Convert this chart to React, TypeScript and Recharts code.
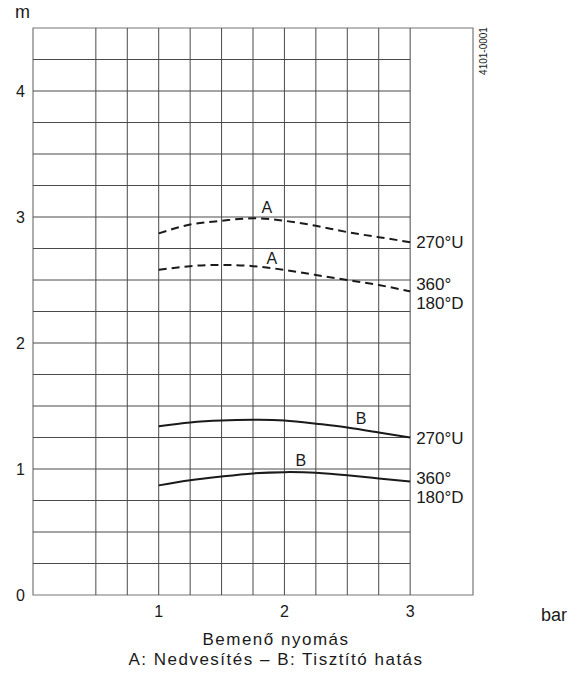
import { LineChart, Line, XAxis, YAxis, ReferenceLine, ReferenceArea, ReferenceDot } from 'recharts';

// pressure (bar) and the four curves (m)
const pressure = [1, 1.25, 1.5, 1.75, 2, 2.25, 2.5, 2.75, 3];
const wetting270 = [2.87, 2.94, 2.97, 2.99, 2.97, 2.93, 2.88, 2.84, 2.8];
const wetting360 = [2.58, 2.61, 2.62, 2.61, 2.58, 2.54, 2.5, 2.46, 2.41];
const cleaning270 = [1.34, 1.37, 1.385, 1.39, 1.385, 1.36, 1.33, 1.29, 1.25];
const cleaning360 = [0.87, 0.91, 0.94, 0.965, 0.975, 0.97, 0.95, 0.925, 0.9];

const xTicks = [1, 2, 3];
const yTicks = [0, 1, 2, 3, 4];
const gridX = [0.5, 0.75, 1, 1.25, 1.5, 1.75, 2, 2.25, 2.5, 2.75, 3];
const gridY = [0.25, 0.5, 0.75, 1, 1.25, 1.5, 1.75, 2, 2.25, 2.5, 2.75, 3, 3.25, 3.5, 3.75, 4, 4.25];

const curveLabels = [
  { x: 1.86, y: 3.08, text: 'A' },
  { x: 1.9, y: 2.67, text: 'A' },
  { x: 2.61, y: 1.4, text: 'B' },
  { x: 2.13, y: 1.07, text: 'B' },
];

const endLabels = [
  { y: 2.8, text: '270°U' },
  { y: 2.47, text: '360°' },
  { y: 2.315, text: '180°D' },
  { y: 1.244, text: '270°U' },
  { y: 0.926, text: '360°' },
  { y: 0.775, text: '180°D' },
];

const data = pressure.map((p, i) => ({
  p,
  a270: wetting270[i],
  a360: wetting360[i],
  b270: cleaning270[i],
  b360: cleaning360[i],
}));

const font = '"Liberation Sans", Arial, sans-serif';
const ink = '#1a1a1a';
const gridColor = '#4a4a4a';

export default function App() {
  return (
    <div style={{ position: 'absolute', left: 0, top: 0, width: 584, height: 675, background: '#fff', fontFamily: font }}>
      <LineChart width={584} height={675} data={data} margin={{ top: 28, right: 111, bottom: 50, left: 0 }}>
        <XAxis
          dataKey="p"
          type="number"
          domain={[0, 3.5]}
          ticks={xTicks}
          axisLine={false}
          tickLine={false}
          tickSize={0}
          tickMargin={11}
          height={30}
          tick={{ fontSize: 16, fill: ink, fontFamily: font }}
        />
        <YAxis
          type="number"
          domain={[0, 4.5]}
          ticks={yTicks}
          axisLine={false}
          tickLine={false}
          tickSize={0}
          tickMargin={8}
          width={33}
          tick={{ fontSize: 16, fill: ink, fontFamily: font }}
        />
        <ReferenceArea x1={0} x2={3.5} y1={0} y2={4.5} fill="none" stroke="#777" strokeWidth={1.2} />
        {gridY.map((v) => (
          <ReferenceLine key={'h' + v} segment={[{ x: 0, y: v }, { x: 3, y: v }]} stroke={gridColor} strokeWidth={1} />
        ))}
        {gridX.map((v) => (
          <ReferenceLine key={'v' + v} x={v} stroke={gridColor} strokeWidth={1} />
        ))}
        <Line type="natural" dataKey="a270" stroke={ink} strokeWidth={2} strokeDasharray="8 5" dot={false} isAnimationActive={false} />
        <Line type="natural" dataKey="a360" stroke={ink} strokeWidth={2} strokeDasharray="8 5" dot={false} isAnimationActive={false} />
        <Line type="natural" dataKey="b270" stroke={ink} strokeWidth={2} dot={false} isAnimationActive={false} />
        <Line type="natural" dataKey="b360" stroke={ink} strokeWidth={2} dot={false} isAnimationActive={false} />
        {curveLabels.map((l, i) => (
          <ReferenceDot
            key={'c' + i}
            x={l.x}
            y={l.y}
            r={0}
            stroke="none"
            label={{ value: l.text, position: 'center', fontSize: 16, fill: ink, fontFamily: font }}
          />
        ))}
        {endLabels.map((l, i) => (
          <ReferenceDot
            key={'e' + i}
            x={3}
            y={l.y}
            r={0}
            stroke="none"
            label={{ value: l.text, position: 'right', offset: 6, fontSize: 17, fill: ink, fontFamily: font }}
          />
        ))}
      </LineChart>
      <svg width={584} height={675} style={{ position: 'absolute', left: 0, top: 0, pointerEvents: 'none' }}>
        <text x={15} y={18} fontSize={18} fill={ink} fontFamily={font}>m</text>
        <text x={554} y={621} fontSize={18} fill={ink} fontFamily={font} textAnchor="middle">bar</text>
        <text x={276} y={645} fontSize={17} fill={ink} fontFamily={font} textAnchor="middle" letterSpacing={1.5}>Bemenő nyomás</text>
        <text x={276} y={665} fontSize={17} fill={ink} fontFamily={font} textAnchor="middle" letterSpacing={1.5}>A: Nedvesítés – B: Tisztító hatás</text>
        <text x={487} y={51} fontSize={10} fill={ink} fontFamily={font} textAnchor="middle" transform="rotate(-90 487 51)">4101-0001</text>
      </svg>
    </div>
  );
}
